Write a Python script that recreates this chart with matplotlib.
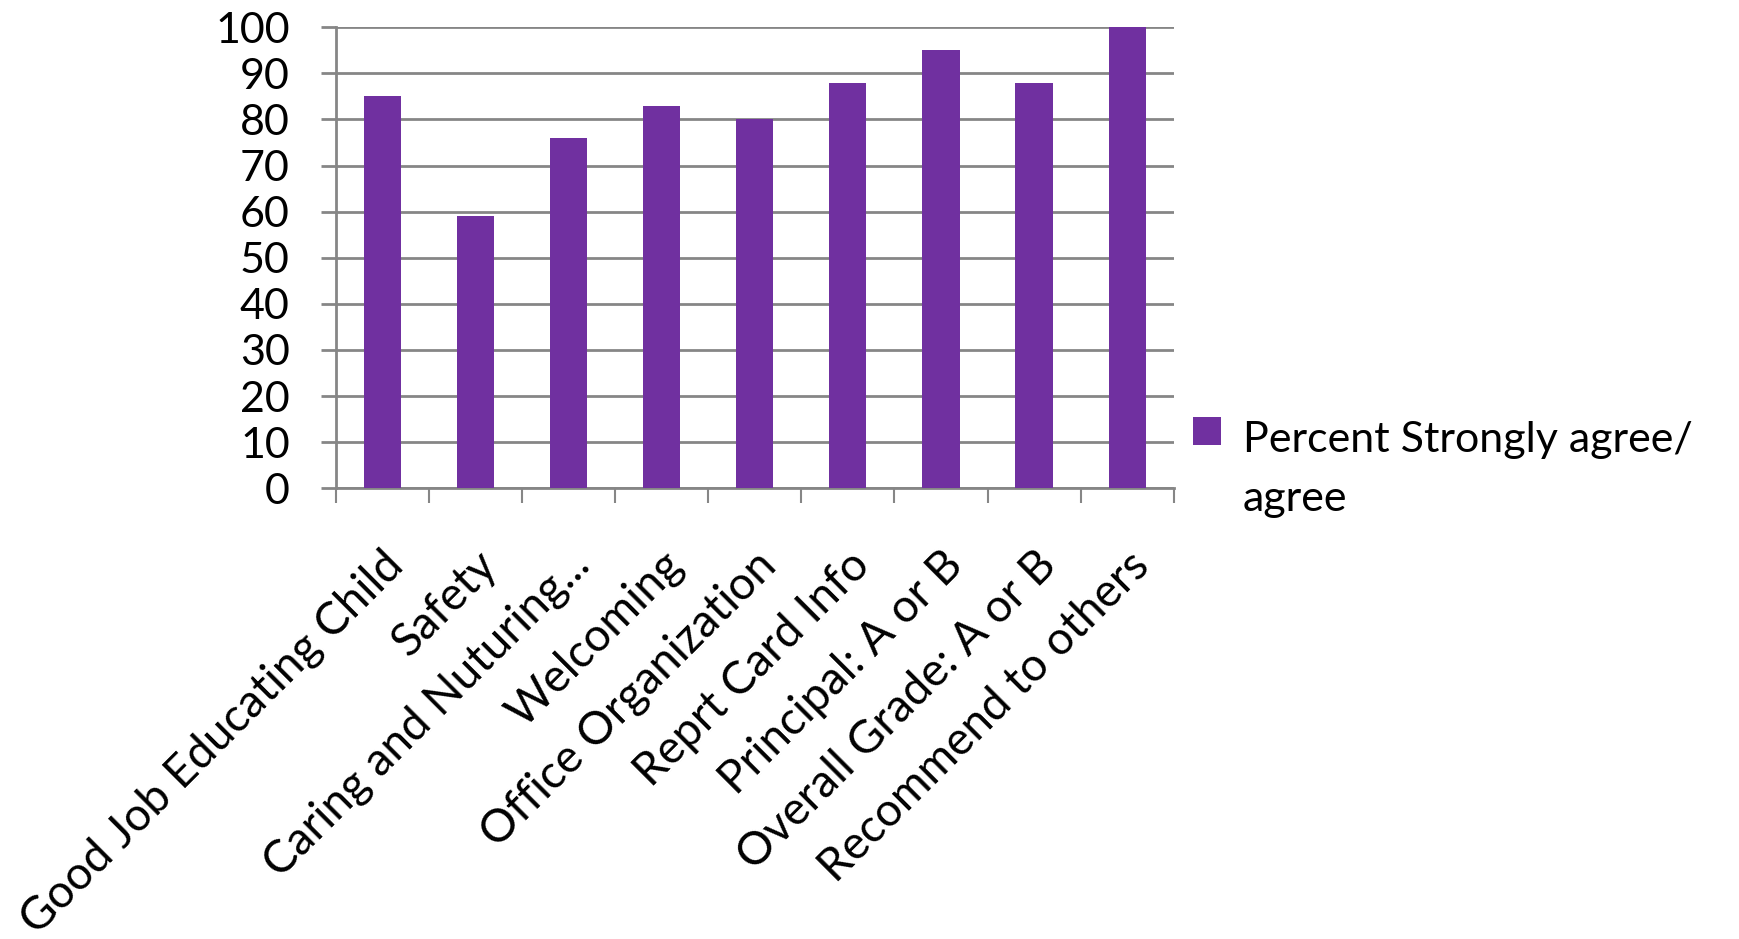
import matplotlib
matplotlib.use("Agg")
import matplotlib.pyplot as plt
import numpy as np
from matplotlib.legend_handler import HandlerPatch, update_from_first_child
from matplotlib.patches import Rectangle
from matplotlib.container import BarContainer

categories = ["Good Job Educating Child", "Safety", "Caring and Nuturing...",
              "Welcoming", "Office Organization", "Reprt Card Info",
              "Principal: A or B", "Overall Grade: A or B", "Recommend to others"]
values = [85, 59, 76, 83, 80, 88, 95, 88, 100]
series_name = "Percent Strongly agree/\nagree"
yticks = list(range(0, 101, 10))

plt.rcParams['font.family'] = ['Lato', 'DejaVu Sans']
fig = plt.figure(figsize=(17.39, 9.39), dpi=100)
ax = fig.add_axes([0.193, 0.480, 0.482, 0.491])

grid_c = "#868686"
x = np.arange(len(categories))
ax.bar(x, values, width=0.4, color="#7030A0", zorder=3, label=series_name)

ax.set_xlim(-0.5, len(categories) - 0.5)
ax.set_ylim(0, 100)
ax.set_yticks(yticks)
ax.set_yticklabels([str(v) for v in yticks], fontsize=31)
ax.yaxis.grid(True, color=grid_c, linewidth=2, zorder=0)
ax.tick_params(axis='y', length=11, width=2, color=grid_c, pad=22)

ax.set_xticks(x)
ax.set_xticklabels(categories, rotation=45, ha='right', va='top',
                   rotation_mode='anchor', fontsize=33)
ax.tick_params(axis='x', which='major', length=0, pad=40)
ax.set_xticks(np.arange(-0.5, len(categories)), minor=True)
ax.tick_params(axis='x', which='minor', length=11, width=1.5, color=grid_c)

for s in ['top', 'right']:
    ax.spines[s].set_visible(False)
for s in ['left', 'bottom']:
    ax.spines[s].set_color(grid_c)
    ax.spines[s].set_linewidth(2)

FS = 31
LS = 1.65


def top_patch(legend, orig_handle, xdescent, ydescent, width, height, fontsize):
    return Rectangle((-xdescent, -ydescent + 0.9 * fontsize), width, height)


leg = ax.legend(loc='center left', bbox_to_anchor=(0.664, 0.50),
                bbox_transform=fig.transFigure, frameon=False, fontsize=FS,
                handlelength=0.65, handleheight=0.65, handletextpad=0.5,
                handler_map={BarContainer: HandlerPatch(
                    patch_func=top_patch, update_func=update_from_first_child)})
for t in leg.get_texts():
    t.set_linespacing(LS)

fig.savefig("out.png", dpi=100)
